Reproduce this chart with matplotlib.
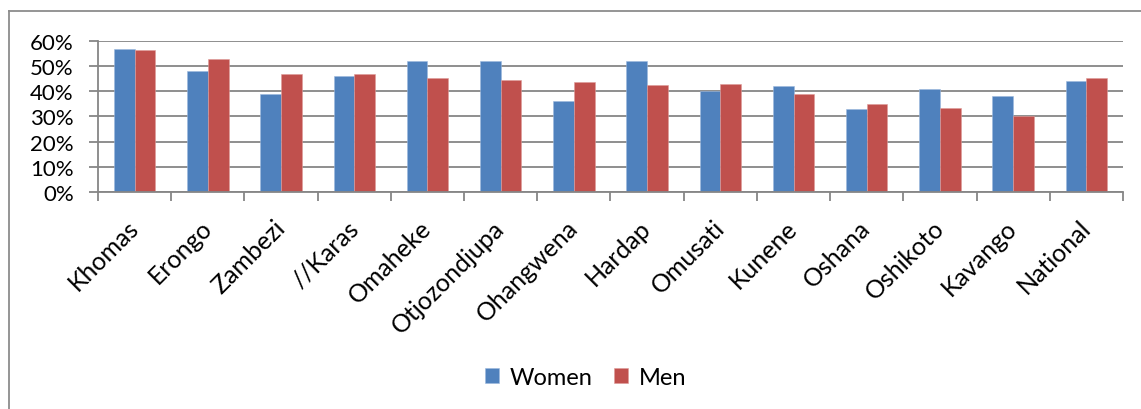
import matplotlib
matplotlib.use("Agg")
import matplotlib.pyplot as plt
import matplotlib.transforms as mtransforms
import numpy as np
from matplotlib.lines import Line2D
from matplotlib.ticker import PercentFormatter

regions = ['Khomas', 'Erongo', 'Zambezi', '//Karas', 'Omaheke', 'Otjozondjupa',
           'Ohangwena', 'Hardap', 'Omusati', 'Kunene', 'Oshana', 'Oshikoto',
           'Kavango', 'National']
women = [57, 48, 39, 46, 52, 52, 36, 52, 40.3, 42, 33, 41, 38, 44]
men = [56.5, 53, 46.7, 47, 45.2, 44.4, 43.7, 42.5, 43, 39, 35, 33.4, 30.3, 45.2]

blue = '#4F81BD'
red = '#C0504D'
grey = '#868686'

plt.rcParams['font.family'] = ['Lato', 'DejaVu Sans']

fig = plt.figure(figsize=(11.41, 4.10), dpi=100)
ax = fig.add_axes([0.0859, 0.5293, 0.8983, 0.3683])

x = np.arange(len(regions))
w = 0.283
ax.bar(x - w / 2, women, w, color=blue, label='Women', edgecolor='#9DB9DD', linewidth=0.4)
ax.bar(x + w / 2, men, w, color=red, label='Men', edgecolor='#DE9C9A', linewidth=0.4)

ax.set_xlim(-0.5, len(regions) - 0.5)
ax.set_ylim(0, 60)
ax.set_yticks(np.arange(0, 61, 10))
ax.yaxis.set_major_formatter(PercentFormatter(decimals=0))
ax.yaxis.grid(True, color=grey, linewidth=1.3)
ax.set_axisbelow(True)

ax.set_xticks(x)
ax.set_xticklabels(regions, rotation=45, ha='right', rotation_mode='anchor', fontsize=18)
ax.set_xticks(np.arange(-0.5, len(regions)), minor=True)
ax.tick_params(axis='x', which='major', length=0, pad=17)
ax.tick_params(axis='x', which='minor', length=6.5, color=grey, width=1.3)
ax.tick_params(axis='y', length=6.5, color=grey, width=1.3, labelsize=16, pad=11)

# nudge the slanted labels a little to the left
shift = mtransforms.ScaledTranslation(-8 / 100, 0, fig.dpi_scale_trans)
for lab in ax.get_xticklabels():
    lab.set_transform(lab.get_transform() + shift)

for s in ['top', 'right']:
    ax.spines[s].set_visible(False)
for s in ['left', 'bottom']:
    ax.spines[s].set_color(grey)
    ax.spines[s].set_linewidth(1.3)

ax.legend(loc='center', bbox_to_anchor=(0.513, 0.078), bbox_transform=fig.transFigure,
          ncol=2, frameon=False, fontsize=17, handlelength=0.6, handleheight=0.6,
          handletextpad=0.45, columnspacing=0.9)

# chart border (only left and top edges fall inside the image)
bx = 9 / 1141
by = 1 - 12 / 410
fig.add_artist(Line2D([bx, bx], [0, by], transform=fig.transFigure, color='#8C8C8C', linewidth=1.3))
fig.add_artist(Line2D([bx, 1], [by, by], transform=fig.transFigure, color='#8C8C8C', linewidth=1.3))

fig.savefig('out.png', dpi=100)
